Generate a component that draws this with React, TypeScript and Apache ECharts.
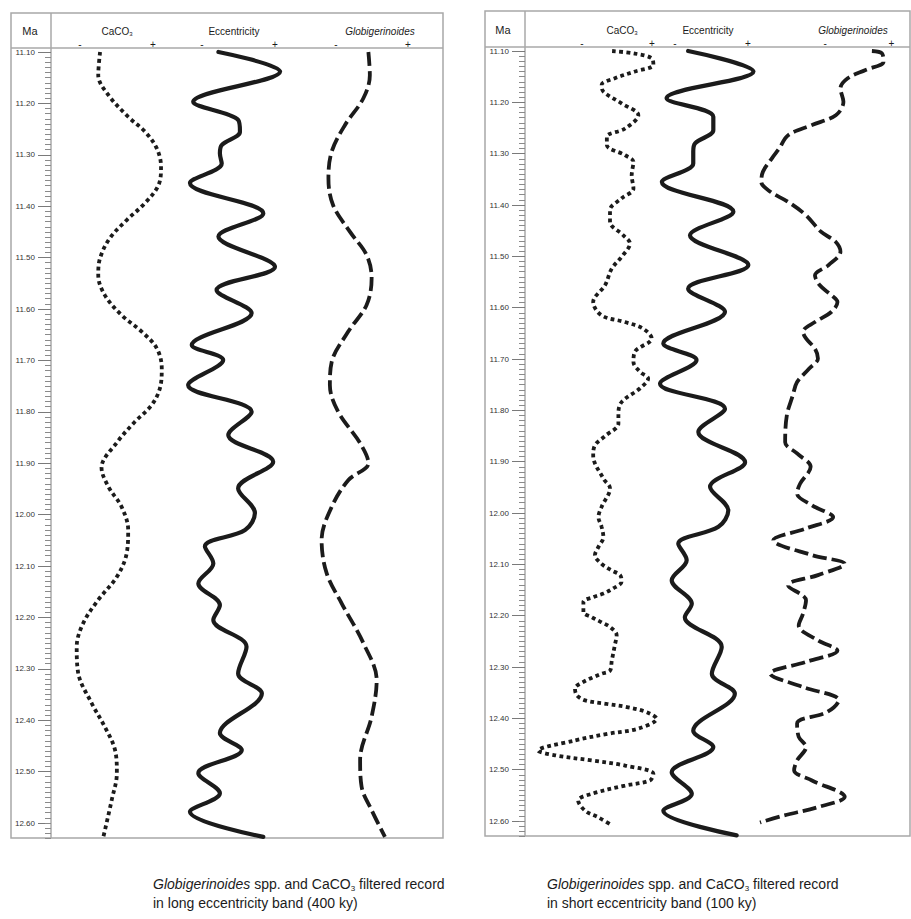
import React, { useEffect, useRef } from 'react';
import * as echarts from 'echarts';

// Depth / age axis (Ma)
const MA_MIN = 11.1;
const MA_MAX = 12.6;
const MA_STEP = 0.1;
const MA_EXT = 12.63;

// Column scale: "-" at -1 and "+" at +1; axis spans a wider range so no curve is cut
const COL_MIN = -3;
const COL_MAX = 1.5;
const COL_STEP = 2;

// ---- Long eccentricity band (400 ky): [relative value, Ma]
const longCaCO3: [number, number][] = [
  [-0.45, 11.1], [-0.5, 11.145], [-0.22, 11.184], [0.32, 11.226], [0.78, 11.255], [1.1, 11.287],
  [1.22, 11.323], [1.15, 11.359], [0.78, 11.394], [0.28, 11.427], [-0.18, 11.462], [-0.45, 11.501],
  [-0.5, 11.534], [-0.32, 11.573], [0.14, 11.612], [0.69, 11.644], [1.1, 11.676], [1.24, 11.715],
  [1.19, 11.754], [0.96, 11.787], [0.51, 11.819], [0.03, 11.858], [-0.41, 11.909], [-0.22, 11.946],
  [0.14, 11.985], [0.32, 12.03], [0.28, 12.075], [0.01, 12.121], [-0.5, 12.166], [-0.91, 12.211],
  [-1.09, 12.257], [-1.05, 12.308], [-0.68, 12.367], [-0.32, 12.413], [-0.04, 12.458], [0.01, 12.503],
  [-0.13, 12.555], [-0.36, 12.627],
];
const longEcc: [number, number][] = [
  [-0.55, 11.1], [1.14, 11.138], [-1.24, 11.197], [-0.01, 11.232], [0.04, 11.255], [-0.46, 11.281],
  [-0.51, 11.297], [-0.46, 11.317], [-1.33, 11.355], [0.68, 11.414], [-0.55, 11.459], [1.0, 11.518],
  [-0.6, 11.563], [0.36, 11.608], [-1.28, 11.67], [-0.42, 11.699], [-1.38, 11.748], [0.36, 11.8],
  [-0.28, 11.845], [0.95, 11.897], [-0.01, 11.949], [0.45, 11.997], [0.18, 12.03], [-0.92, 12.062],
  [-0.69, 12.095], [-1.1, 12.134], [-0.51, 12.176], [-0.69, 12.205], [0.22, 12.257], [-0.01, 12.309],
  [0.64, 12.348], [-0.51, 12.425], [0.09, 12.458], [-1.1, 12.503], [-0.51, 12.542], [-1.33, 12.578],
  [0.68, 12.627],
];
const longGlob: [number, number][] = [
  [-0.1, 11.1], [-0.06, 11.145], [-0.24, 11.19], [-0.75, 11.242], [-1.12, 11.294], [-1.21, 11.346],
  [-1.08, 11.398], [-0.61, 11.45], [-0.15, 11.495], [-0.01, 11.54], [-0.15, 11.592], [-0.66, 11.644],
  [-1.12, 11.703], [-1.17, 11.748], [-0.94, 11.8], [-0.33, 11.861], [-0.1, 11.9], [-0.66, 11.933],
  [-1.12, 11.985], [-1.4, 12.049], [-1.26, 12.114], [-0.84, 12.173], [-0.24, 12.25], [0.13, 12.322],
  [-0.01, 12.393], [-0.33, 12.477], [-0.29, 12.529], [-0.01, 12.575], [0.36, 12.627],
];

// ---- Short eccentricity band (100 ky)
const shortCaCO3: [number, number][] = [
  [-0.14, 11.1], [0.51, 11.105], [0.99, 11.114], [1.04, 11.127], [0.51, 11.14], [-0.06, 11.153],
  [-0.44, 11.166], [-0.39, 11.179], [0.13, 11.202], [0.61, 11.225], [0.23, 11.251], [-0.29, 11.267],
  [-0.29, 11.283], [0.23, 11.303], [0.47, 11.316], [0.42, 11.342], [0.47, 11.368], [0.13, 11.387],
  [-0.2, 11.41], [-0.2, 11.433], [0.18, 11.459], [0.37, 11.475], [0.13, 11.501], [-0.15, 11.524],
  [-0.34, 11.556], [-0.68, 11.589], [-0.44, 11.615], [0.23, 11.628], [0.75, 11.641], [0.99, 11.66],
  [0.51, 11.686], [0.47, 11.706], [0.66, 11.725], [0.89, 11.738], [0.66, 11.757], [0.13, 11.784],
  [0.04, 11.806], [0.04, 11.826], [-0.34, 11.85], [-0.63, 11.868], [-0.68, 11.888], [-0.39, 11.933],
  [-0.2, 11.952], [-0.44, 11.988], [-0.53, 12.008], [-0.44, 12.027], [-0.39, 12.047], [-0.53, 12.066],
  [-0.63, 12.082], [-0.44, 12.099], [-0.15, 12.112], [0.09, 12.121], [0.13, 12.134], [-0.11, 12.147],
  [-0.39, 12.157], [-0.68, 12.164], [-0.96, 12.173], [-0.96, 12.193], [-0.72, 12.203], [-0.44, 12.213],
  [-0.2, 12.222], [-0.01, 12.238], [-0.06, 12.257], [-0.15, 12.288], [-0.2, 12.307], [-0.44, 12.313],
  [-0.68, 12.32], [-0.96, 12.329], [-1.2, 12.342], [-1.15, 12.355], [-0.91, 12.365], [-0.29, 12.372],
  [0.28, 12.378], [0.85, 12.388], [1.13, 12.401], [0.61, 12.42], [-0.25, 12.43], [-1.2, 12.443],
  [-2.25, 12.463], [-1.77, 12.472], [-0.72, 12.482], [0.23, 12.492], [1.04, 12.508], [0.94, 12.521],
  [0.23, 12.531], [-0.72, 12.547], [-1.11, 12.56], [-0.91, 12.58], [-0.53, 12.593], [-0.2, 12.606],
];
const shortEcc: [number, number][] = [
  [-0.64, 11.1], [1.15, 11.14], [-1.23, 11.192], [0.05, 11.228], [0.05, 11.254], [-0.45, 11.28],
  [-0.5, 11.296], [-0.5, 11.319], [-1.36, 11.355], [0.6, 11.413], [-0.59, 11.459], [1.01, 11.517],
  [-0.64, 11.563], [0.37, 11.608], [-1.32, 11.67], [-0.41, 11.702], [-1.41, 11.748], [0.37, 11.797],
  [-0.36, 11.842], [0.92, 11.901], [-0.04, 11.949], [0.46, 11.995], [0.19, 12.027], [-0.91, 12.06],
  [-0.68, 12.092], [-1.09, 12.131], [-0.54, 12.177], [-0.73, 12.203], [0.28, 12.261], [0.01, 12.313],
  [0.64, 12.352], [-0.5, 12.424], [0.05, 12.456], [-1.09, 12.505], [-0.54, 12.547], [-1.32, 12.58],
  [0.69, 12.628],
];
const shortGlob: [number, number][] = [
  [0.41, 11.1], [0.72, 11.105], [0.76, 11.121], [0.22, 11.137], [-0.32, 11.153], [-0.54, 11.173],
  [-0.45, 11.199], [-0.68, 11.225], [-1.4, 11.244], [-2.12, 11.264], [-2.39, 11.29], [-2.61, 11.309],
  [-2.88, 11.335], [-2.93, 11.355], [-2.66, 11.374], [-2.12, 11.394], [-1.58, 11.42], [-1.13, 11.452],
  [-0.68, 11.472], [-0.54, 11.491], [-0.9, 11.517], [-1.31, 11.537], [-1.17, 11.556], [-0.81, 11.576],
  [-0.63, 11.589], [-0.81, 11.608], [-1.31, 11.628], [-1.67, 11.647], [-1.58, 11.66], [-1.31, 11.68],
  [-1.22, 11.699], [-1.49, 11.719], [-1.85, 11.745], [-1.98, 11.771], [-2.16, 11.81], [-2.21, 11.862],
  [-1.85, 11.884], [-1.44, 11.91], [-1.76, 11.943], [-1.85, 11.962], [-1.4, 11.985], [-0.76, 12.008],
  [-1.58, 12.03], [-2.57, 12.053], [-1.4, 12.082], [-0.41, 12.099], [-1.22, 12.121], [-2.12, 12.141],
  [-1.58, 12.17], [-1.67, 12.196], [-1.8, 12.219], [-1.22, 12.248], [-0.63, 12.268], [-1.58, 12.29],
  [-2.66, 12.313], [-1.67, 12.339], [-0.59, 12.365], [-0.95, 12.388], [-1.85, 12.41], [-1.8, 12.436],
  [-1.58, 12.456], [-1.85, 12.482], [-1.94, 12.501], [-1.4, 12.521], [-0.41, 12.553], [-1.22, 12.573],
  [-2.3, 12.59], [-2.97, 12.603],
];

const HEADERS = ['Ma', 'CaCO{s|3}', 'Eccentricity', '{i|Globigerinoides}'];
const CAPTION_LONG = ['{i|Globigerinoides} spp. and CaCO{s|3} filtered record', 'in long eccentricity band (400 ky)'];
const CAPTION_SHORT = ['{i|Globigerinoides} spp. and CaCO{s|3} filtered record', 'in short eccentricity band (100 ky)'];

const INK = '#1b1b1b';
const FRAME = '#a8a8a8';
const FONT = "'Liberation Sans', Arial, Helvetica, sans-serif";

type Panel = {
  axisX: number; top: number; height: number;
  cols: { minus: number; plus: number }[];
  box: [number, number, number, number];
  headerY: number; sepY: number;
  headerX: number[];
  data: [number, number][][];
  caption: string[]; captionX: number;
};

const panels: Panel[] = [
  {
    axisX: 51, top: 52, height: 771,
    cols: [{ minus: 80, plus: 153 }, { minus: 202, plus: 275 }, { minus: 336, plus: 408 }],
    box: [11, 13, 443, 838], headerY: 31, sepY: 48,
    headerX: [30, 117, 234, 380],
    data: [longCaCO3, longEcc, longGlob],
    caption: CAPTION_LONG, captionX: 153,
  },
  {
    axisX: 525, top: 51, height: 770,
    cols: [{ minus: 582, plus: 652 }, { minus: 675, plus: 748 }, { minus: 833, plus: 907 }],
    box: [485, 11, 910, 836], headerY: 30, sepY: 47,
    headerX: [503, 622, 708, 853],
    data: [shortCaCO3, shortEcc, shortGlob],
    caption: CAPTION_SHORT, captionX: 547,
  },
];

const lineStyles = [
  { width: 3.8, type: [3.8, 3.4], cap: 'butt' },
  { width: 4.2, type: 'solid', cap: 'round', join: 'round' },
  { width: 3.8, type: [14, 5], cap: 'butt' },
];

function buildOption() {
  const grid: any[] = [];
  const xAxis: any[] = [];
  const yAxis: any[] = [];
  const series: any[] = [];
  const graphic: any[] = [];

  panels.forEach((p) => {
    // Ma axis grid
    let gi = grid.length;
    grid.push({ left: p.axisX, top: p.top, width: 1, height: p.height });
    xAxis.push({ type: 'value', gridIndex: gi, show: false, min: 0, max: 1 });
    yAxis.push({
      type: 'value', gridIndex: gi, min: MA_MIN, max: MA_MAX, interval: MA_STEP, inverse: true,
      position: 'left',
      axisLine: { show: false },
      axisTick: { show: true, length: 13, lineStyle: { color: '#7a7a7a', width: 1 } },
      minorTick: { show: true, splitNumber: 10, length: 6, lineStyle: { color: '#8a8a8a', width: 1 } },
      axisLabel: { fontSize: 8, color: '#333', margin: 16, fontFamily: FONT, formatter: (v: number) => v.toFixed(2) },
      splitLine: { show: false }, minorSplitLine: { show: false },
    });
    // ticks below 12.60
    gi = grid.length;
    const pxPerMa = p.height / (MA_MAX - MA_MIN);
    grid.push({ left: p.axisX, top: p.top + p.height, width: 1, height: (MA_EXT - MA_MAX) * pxPerMa });
    xAxis.push({ type: 'value', gridIndex: gi, show: false, min: 0, max: 1 });
    yAxis.push({
      type: 'value', gridIndex: gi, min: MA_MAX, max: MA_EXT, interval: 0.01, inverse: true,
      axisLine: { show: false },
      axisTick: { show: true, length: 6, lineStyle: { color: '#8a8a8a', width: 1 } },
      axisLabel: { show: false }, splitLine: { show: false },
    });

    p.cols.forEach((c, ci) => {
      const g = grid.length;
      const half = (c.plus - c.minus) / 2;
      const center = (c.plus + c.minus) / 2;
      grid.push({
        left: center + COL_MIN * half, top: p.top,
        width: (COL_MAX - COL_MIN) * half, height: p.height,
      });
      xAxis.push({
        type: 'value', gridIndex: g, position: 'top', min: COL_MIN, max: COL_MAX, interval: COL_STEP,
        axisLine: { show: false }, axisTick: { show: false }, splitLine: { show: false },
        axisLabel: {
          show: true, margin: 3, fontSize: 10, color: INK, fontFamily: FONT,
          showMinLabel: true, showMaxLabel: true,
          formatter: (v: number) => (Math.abs(v + 1) < 1e-6 ? '-' : Math.abs(v - 1) < 1e-6 ? '+' : ''),
        },
      });
      yAxis.push({ type: 'value', gridIndex: g, min: MA_MIN, max: MA_MAX, inverse: true, show: false });
      series.push({
        type: 'line', xAxisIndex: g, yAxisIndex: g, data: p.data[ci],
        showSymbol: false, symbol: 'none', smooth: 0.35, clip: false,
        lineStyle: { color: INK, ...lineStyles[ci] },
        silent: true,
      });
    });

    // frame
    const [x1, y1, x2, y2] = p.box;
    graphic.push({ type: 'rect', shape: { x: x1, y: y1, width: x2 - x1, height: y2 - y1 }, style: { fill: 'none', stroke: FRAME, lineWidth: 1.5 }, silent: true });
    graphic.push({ type: 'line', shape: { x1: x1, y1: p.sepY, x2: x2, y2: p.sepY }, style: { stroke: FRAME, lineWidth: 1.5 }, silent: true });
    graphic.push({ type: 'line', shape: { x1: p.axisX, y1: y1, x2: p.axisX, y2: y2 }, style: { stroke: FRAME, lineWidth: 1.5 }, silent: true });

    HEADERS.forEach((h, hi) => {
      graphic.push({
        type: 'text', x: p.headerX[hi], y: p.headerY, silent: true,
        style: {
          text: h, fill: INK, fontSize: hi === 0 ? 11 : 10, fontFamily: FONT,
          textAlign: 'center', textVerticalAlign: 'middle',
          rich: {
            s: { fontSize: 6, fill: INK, fontFamily: FONT, verticalAlign: 'bottom', lineHeight: 12, padding: [4, 0, 0, 0] },
            i: { fontStyle: 'italic', fontSize: 10, fill: INK, fontFamily: FONT },
          },
        },
      });
    });

    p.caption.forEach((line, li) => {
      graphic.push({
        type: 'text', x: p.captionX, y: 884 + li * 19, silent: true,
        style: {
          text: line, fill: INK, fontSize: 14, fontFamily: FONT,
          textAlign: 'left', textVerticalAlign: 'middle',
          rich: {
            i: { fontStyle: 'italic', fontSize: 14, fill: INK, fontFamily: FONT },
            s: { fontSize: 8, fill: INK, fontFamily: FONT, verticalAlign: 'bottom', lineHeight: 16, padding: [5, 0, 0, 0] },
          },
        },
      });
    });
  });

  return { animation: false, backgroundColor: '#ffffff', grid, xAxis, yAxis, series, graphic };
}

export default function App() {
  const ref = useRef<HTMLDivElement>(null);
  useEffect(() => {
    document.body.style.margin = '0';
    if (!ref.current) return;
    const chart = echarts.init(ref.current, undefined, { renderer: 'svg' });
    chart.setOption(buildOption() as any);
    return () => chart.dispose();
  }, []);
  return <div ref={ref} style={{ width: 911, height: 919 }} />;
}
